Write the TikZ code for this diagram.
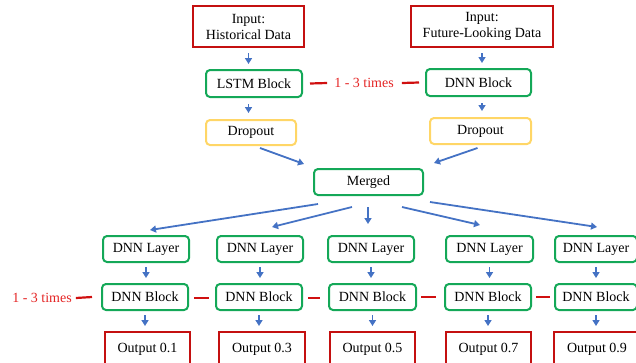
\documentclass[tikz,border=0pt]{standalone}
\usepackage{fontspec}
\setmainfont{Liberation Serif}
\usetikzlibrary{arrows.meta,calc}
\definecolor{boxred}{RGB}{196,16,16}
\definecolor{boxgreen}{RGB}{20,168,88}
\definecolor{boxyellow}{RGB}{255,214,102}
\definecolor{arrblue}{RGB}{68,114,196}
\definecolor{txtred}{RGB}{228,36,36}
\definecolor{linered}{RGB}{208,16,16}
\begin{document}
\begin{tikzpicture}[x=1pt,y=-1pt,
  base/.style={inner sep=0pt,font=\fontsize{14}{16}\selectfont,align=center,line width=2pt},
  redbox/.style={base,draw=boxred},
  greenbox/.style={base,draw=boxgreen,rounded corners=4pt},
  yellowbox/.style={base,draw=boxyellow,rounded corners=4pt},
  arr/.style={draw=arrblue,line width=1.8pt,-{Triangle[length=6pt,width=7pt]}},
  rep/.style={draw=linered,line width=2.2pt},
  reptxt/.style={text=txtred,font=\fontsize{14}{16}\selectfont,inner sep=0pt}]
\useasboundingbox (0,0) rectangle (636,362);
% top
\node[redbox,minimum width=111pt,minimum height=41pt] (in1) at (248.5,26.5) {Input:\\Historical Data};
\node[redbox,minimum width=142pt,minimum height=41pt] (in2) at (482,26.5) {Input:\\Future-Looking Data};
\node[greenbox,minimum width=96pt,minimum height=27pt] (lstm) at (254,83.5) {LSTM Block};
\node[greenbox,minimum width=105pt,minimum height=27pt] (dnnT) at (478.5,82.5) {DNN Block};
\node[yellowbox,minimum width=90pt,minimum height=25pt] (dr1) at (251,132.5) {Dropout};
\node[yellowbox,minimum width=101pt,minimum height=26pt] (dr2) at (480.5,131) {Dropout};
\node[greenbox,minimum width=109pt,minimum height=26pt] (merged) at (368.5,182) {Merged};
\node[reptxt] (repT) at (364,83) {1 - 3 times};
\draw[rep] ($(lstm.east)+(7,0)$) -- ($(repT.west)+(-7,0)$);
\draw[rep] ($(repT.east)+(8,0)$) -- ($(dnnT.west)+(-6,0)$);
% top arrows
\draw[arr] ($(in1.south)+(0,5)$) -- ($(in1.south |- lstm.north)+(0,-5)$);
\draw[arr] ($(in2.south)+(0,5)$) -- ($(in2.south |- dnnT.north)+(0,-5)$);
\draw[arr] ($(in1.south |- lstm.south)+(0,6)$) -- ($(in1.south |- dr1.north)+(0,-6)$);
\draw[arr] ($(in2.south |- dnnT.south)+(0,6)$) -- ($(in2.south |- dr2.north)+(0,-6)$);
\draw[arr] ($(dr1.south)+(9,2)$) -- ($(merged.west)+(-9,-18)$);
\draw[arr] ($(dr2.south)+(-3,3)$) -- ($(merged.north east)+(10,-5)$);
% rows
\foreach \i/\xl/\wl/\xb/\wb/\xo/\wo in {1/146/86/145/86/147.5/85, 2/260/86/259/86/262/86, 3/371/86/372.5/87/372.5/85, 4/489.5/87/488/86/488.5/85, 5/596/82/596/82/597/86}{
  \node[greenbox,minimum width=\wl pt,minimum height=26pt] (L\i) at (\xl,249) {DNN Layer};
  \node[greenbox,minimum width=\wb pt,minimum height=26pt] (B\i) at (\xb,297) {DNN Block};
  \node[redbox,minimum width=\wo pt,minimum height=34pt] (O\i) at (\xo,349) {Output 0.\the\numexpr2*\i-1\relax};
  \draw[arr] ($(L\i.south)+(0,4)$) -- ($(L\i.south |- B\i.north)+(0,-5)$);
  \draw[arr] ($(B\i.south)+(0,4)$) -- ($(B\i.south |- O\i.north)+(0,-5)$);
}
% fan
\draw[arr] ($(merged.south west)+(5,8)$) -- ($(L1.north)+(4,-5)$);
\draw[arr] ($(merged.south)+(-16.5,11)$) -- ($(L2.north)+(12,-8)$);
\draw[arr] ($(merged.south)+(-0.5,11)$) -- ($(merged.south |- L3.north)+(-0.5,-11)$);
\draw[arr] ($(merged.south)+(33.5,11)$) -- ($(L4.north)+(-9.5,-10)$);
\draw[arr] ($(merged.south)+(61.5,6)$) -- ($(L5.north)+(1,-8)$);
% repeat markers bottom
\node[reptxt] (repB) at (42,298) {1 - 3 times};
\draw[rep] ($(repB.east)+(4,0)$) -- ($(B1.west)+(-9,0)$);
\draw[rep] ($(B1.east)+(5,1)$) -- ($(B2.west)+(-6,1)$);
\draw[rep] ($(B2.east)+(5,1)$) -- ($(B3.west)+(-8,1)$);
\draw[rep] ($(B3.east)+(4,0)$) -- ($(B4.west)+(-8,0)$);
\draw[rep] ($(B4.east)+(4,0)$) -- ($(B5.west)+(-4,0)$);
\end{tikzpicture}
\end{document}
